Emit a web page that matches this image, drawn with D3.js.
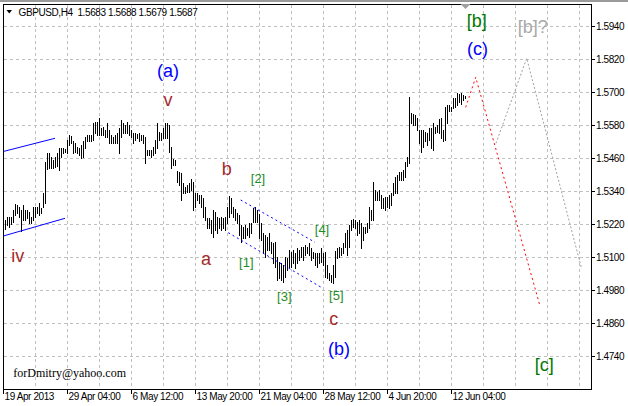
<!DOCTYPE html>
<html><head><meta charset="utf-8">
<script src="https://cdn.jsdelivr.net/npm/d3@7"></script>
<style>body{margin:0;background:#fff;overflow:hidden} svg{display:block}</style>
</head><body>
<script>
// ---- DATA ----
const highs = [
1.5237,1.5249,1.5246,1.5249,1.5273,1.5295,1.5291,1.5285,1.5273,1.5291,
1.5273,1.5273,1.5267,1.5249,1.5285,1.5285,1.5285,1.5297,1.5279,1.5334,
1.5449,1.5479,1.5479,1.5467,1.5455,1.5467,1.5479,1.5497,1.5497,1.5497,
1.5494,1.5528,1.5546,1.5542,1.5522,1.5515,1.5503,1.5497,1.5509,1.5522,
1.5540,1.5546,1.5546,1.5546,1.5588,1.5594,1.5594,1.5607,1.5570,1.5576,
1.5564,1.5588,1.5564,1.5546,1.5540,1.5546,1.5552,1.5570,1.5600,1.5588,
1.5582,1.5594,1.5582,1.5564,1.5552,1.5552,1.5549,1.5552,1.5546,1.5546,
1.5540,1.5491,1.5491,1.5491,1.5503,1.5528,1.5588,1.5558,1.5552,1.5570,
1.5588,1.5588,1.5582,
1.5503,1.5457,1.5455,1.5416,1.5412,1.5406,1.5370,1.5358,1.5364,1.5372,
1.5385,1.5376,1.5334,1.5334,1.5328,1.5328,1.5315,1.5285,1.5243,1.5243,
1.5237,1.5273,1.5267,1.5249,1.5243,1.5249,1.5243,1.5249,1.5283,1.5324,
1.5315,1.5285,1.5275,1.5261,1.5255,1.5218,1.5210,1.5218,1.5206,1.5224,
1.5224,1.5279,1.5285,1.5273,1.5258,1.5224,1.5188,1.5182,1.5176,1.5188,
1.5158,1.5152,1.5158,1.5103,1.5085,1.5079,1.5073,1.5103,1.5097,1.5127,
1.5121,1.5127,1.5115,1.5134,1.5127,1.5140,1.5140,1.5146,1.5140,1.5154,
1.5134,1.5121,1.5115,1.5115,1.5115,
1.5133,1.5115,1.5121,1.5073,1.5042,1.5036,1.5073,1.5125,1.5133,1.5140,
1.5133,1.5152,1.5188,1.5200,1.5218,1.5237,1.5239,1.5237,1.5230,1.5237,
1.5224,1.5212,1.5212,1.5224,1.5285,1.5273,1.5376,1.5346,1.5340,1.5346,
1.5328,1.5315,1.5321,1.5321,1.5328,1.5334,1.5370,1.5394,1.5400,1.5412,
1.5412,1.5418,1.5449,1.5467,1.5685,1.5625,1.5622,1.5619,1.5607,1.5564,
1.5564,1.5564,1.5558,1.5552,1.5570,1.5570,1.5588,1.5576,1.5582,1.5603,
1.5607,1.5564,1.5649,1.5655,1.5655,1.5649,1.5679,1.5679,1.5697,1.5695,
1.5697,1.5691,1.5688
];
const lows = [
1.5203,1.5218,1.5212,1.5222,1.5230,1.5255,1.5261,1.5249,1.5198,1.5237,
1.5237,1.5243,1.5224,1.5224,1.5237,1.5249,1.5261,1.5255,1.5261,1.5285,
1.5297,1.5421,1.5425,1.5425,1.5425,1.5428,1.5431,1.5419,1.5467,1.5479,
1.5482,1.5479,1.5509,1.5515,1.5479,1.5485,1.5479,1.5473,1.5461,1.5467,
1.5497,1.5522,1.5522,1.5522,1.5528,1.5552,1.5546,1.5546,1.5546,1.5546,
1.5540,1.5540,1.5515,1.5515,1.5515,1.5515,1.5515,1.5479,1.5540,1.5552,
1.5552,1.5552,1.5546,1.5540,1.5515,1.5528,1.5534,1.5525,1.5528,1.5515,
1.5443,1.5473,1.5473,1.5467,1.5473,1.5479,1.5497,1.5528,1.5528,1.5534,
1.5534,1.5534,1.5485,
1.5425,1.5437,1.5437,1.5376,1.5364,1.5309,1.5334,1.5334,1.5340,1.5340,
1.5346,1.5273,1.5285,1.5309,1.5297,1.5285,1.5249,1.5237,1.5206,1.5206,
1.5188,1.5176,1.5200,1.5188,1.5206,1.5200,1.5206,1.5200,1.5224,1.5249,
1.5261,1.5249,1.5237,1.5224,1.5182,1.5158,1.5170,1.5170,1.5182,1.5176,
1.5188,1.5230,1.5230,1.5230,1.5170,1.5164,1.5115,1.5103,1.5127,1.5127,
1.5115,1.5079,1.5067,1.5018,1.5024,1.5018,1.5012,1.5030,1.5055,1.5067,
1.5067,1.5079,1.5061,1.5079,1.5091,1.5103,1.5091,1.5109,1.5115,1.5109,
1.5091,1.5097,1.5073,1.5067,1.5079,
1.5085,1.5073,1.5030,1.5024,1.5018,1.5012,1.5006,1.5030,1.5097,1.5103,
1.5109,1.5115,1.5140,1.5109,1.5140,1.5200,1.5212,1.5206,1.5182,1.5188,
1.5133,1.5164,1.5188,1.5194,1.5206,1.5237,1.5237,1.5309,1.5309,1.5309,
1.5279,1.5279,1.5273,1.5285,1.5279,1.5291,1.5328,1.5334,1.5334,1.5382,
1.5382,1.5382,1.5394,1.5431,1.5443,1.5588,1.5582,1.5582,1.5564,1.5516,
1.5485,1.5503,1.5522,1.5510,1.5528,1.5497,1.5491,1.5552,1.5558,1.5552,
1.5534,1.5522,1.5528,1.5588,1.5631,1.5631,1.5643,1.5649,1.5655,1.5667,
1.5659,1.5673,1.5679
];
const dateLabels = ["19 Apr 2013","29 Apr 04:00","6 May 12:00","13 May 20:00","21 May 04:00","28 May 12:00","4 Jun 20:00","12 Jun 04:00"];
const dateIndex = [0,32,64,96,128,160,192,224];
const priceTicks = [1.4740,1.4860,1.4980,1.5100,1.5220,1.5340,1.5460,1.5580,1.5700,1.5820,1.5940];
const gridIndex = [16,32,48,64,80,96,112,128,144,160,176,192,208,224,240,256,272,288];

const headerText = "GBPUSD,H4  1.5683 1.5688 1.5679 1.5687";

// wave labels: [text, bar index, price (baseline), font size, colour]
const waveText  = ["(a)","v","b","[2]","iv","a","[1]","[3]","[4]","[5]","c","(b)","[b]","(c)","[b]?","[c]"];
const waveIndex = [82.25,82.25,111.6,127.25,7.15,101.25,121.4,140.4,159.25,166.4,165.15,167.75,236.6,237,264.65,270.35];
const wavePrice = [1.5755,1.5651,1.5400,1.5371,1.5085,1.5073,1.5067,1.4942,1.5184,1.4944,1.4855,1.4745,1.5940,1.5838,1.5916,1.4687];
const waveSize  = [18,18,18,13,18,18,13,13,13,13,18,18,18,18,18,18];
const waveColor = ["#0000ff","#a52a2a","#a52a2a","#1e8c1e","#a52a2a","#a52a2a","#1e8c1e","#1e8c1e","#1e8c1e","#1e8c1e","#a52a2a","#0000ff","#007800","#0000ff","#a8a8a8","#007800"];

// trend lines: lists of [index, price]
const chanUpper = [[-0.1,1.55855-0.01],[25.75,1.55335]];
const chanLower = [[-0.1,1.51782],[30.75,1.52425]];
const dotUpper  = [[118.6,1.53091],[155.75,1.51553]];
const dotLower  = [[112.4,1.51902],[158.6,1.49927]];
const redPath   = [[231.1,1.56462],[236.1,1.57553],[268.25,1.49236]];
const grayPath  = [[246.25,1.55153],[261.6,1.58244],[289.1,1.50582]];

// ---- DRAW ----
const W = 628, H = 406;
const L = 3, R = 591, T = 4, B = 389;
const x = d3.scaleLinear().domain([0, 1]).range([3.5, 5.5]);
const y = d3.scaleLinear().domain([1.4740, 1.5940]).range([356.5, 26.5]);
const FONT = "'Liberation Sans', Arial, sans-serif";

const svg = d3.select("body").append("svg").attr("width", W).attr("height", H);
svg.append("rect").attr("width", W).attr("height", H).attr("fill", "#fff");
svg.append("rect").attr("x",0).attr("y",0).attr("width",W).attr("height",2).attr("fill","#9a9a9a");

const grid = svg.append("g").attr("stroke", "#c0c0c0").attr("stroke-dasharray", "3,3")
  .attr("shape-rendering", "crispEdges");
grid.selectAll("line.v").data(gridIndex).join("line")
  .attr("x1", d => x(d)).attr("x2", d => x(d)).attr("y1", T + 1).attr("y2", B);
grid.selectAll("line.h").data(priceTicks).join("line")
  .attr("y1", d => Math.floor(y(d)) + 0.5).attr("y2", d => Math.floor(y(d)) + 0.5)
  .attr("x1", L + 1).attr("x2", R);

// bars
svg.append("g").attr("stroke", "#000").attr("shape-rendering", "crispEdges")
  .selectAll("line").data(highs).join("line")
  .attr("x1", (d, k) => x(k + 1)).attr("x2", (d, k) => x(k + 1))
  .attr("y1", d => Math.round(y(d)))
  .attr("y2", (d, k) => Math.round(y(lows[k])) + 1);

const line = d3.line().x(d => x(d[0])).y(d => y(d[1]));
const clip = svg.append("clipPath").attr("id", "pc").append("rect")
  .attr("x", L + 1).attr("y", T + 1).attr("width", R - L - 1).attr("height", B - T - 1);
const lg = svg.append("g").attr("clip-path", "url(#pc)").attr("fill", "none");
lg.append("path").attr("d", line(chanUpper)).attr("stroke", "#0000ff");
lg.append("path").attr("d", line(chanLower)).attr("stroke", "#0000ff");
lg.append("path").attr("d", line(dotUpper)).attr("stroke", "#0000ff").attr("stroke-dasharray", "2,3");
lg.append("path").attr("d", line(dotLower)).attr("stroke", "#0000ff").attr("stroke-dasharray", "2,3");
lg.append("path").attr("d", line(redPath)).attr("stroke", "#ff0000").attr("stroke-dasharray", "2,3");
lg.append("path").attr("d", line(grayPath)).attr("stroke", "#a0a0a0").attr("stroke-dasharray", "2,2");

// wave labels
svg.append("g").attr("font-family", FONT).attr("text-anchor", "middle")
  .selectAll("text").data(waveText).join("text")
  .attr("x", (d, k) => x(waveIndex[k])).attr("y", (d, k) => y(wavePrice[k]))
  .attr("font-size", (d, k) => waveSize[k]).attr("fill", (d, k) => waveColor[k])
  .text(d => d);

// frame
svg.append("rect").attr("x", L + 0.5).attr("y", T + 0.5).attr("width", R - L).attr("height", B - T)
  .attr("fill", "none").attr("stroke", "#000").attr("shape-rendering", "crispEdges");

// right price axis
const ay = svg.append("g").attr("transform", `translate(${R},-0.5)`)
  .call(d3.axisRight(y).tickValues(priceTicks).tickSize(4).tickPadding(1).tickFormat(d3.format(".4f")));
ay.select(".domain").remove();
ay.attr("font-family", FONT).attr("font-size", 10);
ay.selectAll("text").attr("fill", "#000").style("letter-spacing", "-0.4px");
ay.selectAll("line").attr("stroke", "#000");

// bottom time axis
const ax = svg.append("g").attr("transform", `translate(-0.5,${B})`)
  .call(d3.axisBottom(x).tickValues(dateIndex).tickSize(5).tickFormat((d, k) => dateLabels[k]));
ax.select(".domain").remove();
ax.attr("font-family", FONT).attr("font-size", 10);
ax.selectAll("text").attr("fill", "#000").attr("text-anchor", "start").attr("x", 1).attr("y", 4)
  .style("letter-spacing", "-0.4px");
ax.selectAll("line").attr("stroke", "#000");

// header
svg.append("path").attr("d", "M6.5,10 L12,10 L9.25,13.5 Z").attr("fill", "#000");
svg.append("text").attr("x", 18.5).attr("y", 16).attr("font-family", FONT).attr("font-size", 10)
  .style("letter-spacing", "-0.4px").style("white-space", "pre").attr("fill", "#000").text(headerText);

// shift marker
svg.append("path").attr("d", `M${x(231)-5},4 L${x(231)+5},4 L${x(231)},9 Z`).attr("fill", "#a0a0a0");

// watermark
svg.append("text").attr("x", 13.3).attr("y", 377).attr("font-family", "'Liberation Serif', 'Times New Roman', serif")
  .attr("font-size", 12).attr("fill", "#000").text("forDmitry@yahoo.com");
</script>
</body></html>
